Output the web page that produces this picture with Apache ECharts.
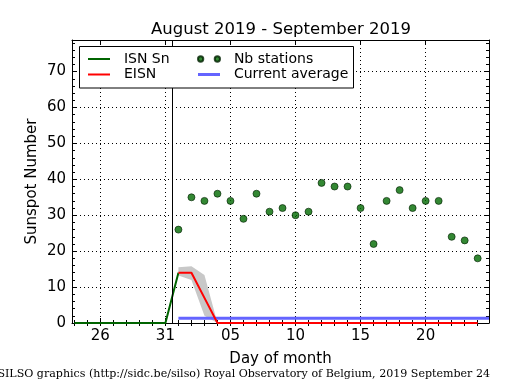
<!DOCTYPE html>
<html>
<head>
<meta charset="utf-8">
<script src="https://cdn.jsdelivr.net/npm/echarts@6/dist/echarts.min.js"></script>
<style>html,body{margin:0;padding:0;background:#fff}#c{width:515px;height:390px}</style>
</head>
<body>
<div id="c"></div>
<script>
// ---- data (dates as MM-DD) ----
const isnDates = ['08-24','08-25','08-26','08-27','08-28','08-29','08-30','08-31','09-01'];
const isnValues = [0,0,0,0,0,0,0,0,14];

const eisnDates = ['09-01','09-02','09-03','09-04','09-05','09-06','09-07','09-08','09-09','09-10','09-11','09-12',
  '09-13','09-14','09-15','09-16','09-17','09-18','09-19','09-20','09-21','09-22','09-23','09-24'];
const eisnValues = [14,14,7,0,0,0,0,0,0,0,0,0,0,0,0,0,0,0,0,0,0,0,0,0];
const nbStations = [26,35,34,36,34,29,36,31,32,30,31,39,38,38,32,22,34,37,32,34,34,24,23,18];

const bandDates = ['09-01','09-02','09-03','09-04'];
const bandUpper = [15.5,15.8,13.4,0];
const bandLower = [13.2,12.0,2.0,0];

const avgStart = '09-01';
const avgValue = 1.3;
const boundaryDay = 30.5; // Aug 31.5 (days since Aug 1)

const xTickDates = ['08-26','08-31','09-05','09-10','09-15','09-20'];
const xTickLabels = ['26','31','05','10','15','20'];
const xMinorDates = ['08-24','08-25','08-26','08-27','08-28','08-29','08-30','08-31','09-01','09-02','09-03','09-04',
  '09-05','09-06','09-07','09-08','09-09','09-10','09-11','09-12','09-13','09-14','09-15','09-16','09-17','09-18',
  '09-19','09-20','09-21','09-22','09-23','09-24'];
const yTickLabels = ['0','10','20','30','40','50','60','70'];

// axis range in days since Aug 1
const xMin = 22.82, xMax = 54.87;
const yMin = 0, yMax = 78.8;

function dayX(s){ const p = s.split('-').map(Number); return p[0] === 8 ? p[1]-1 : 30 + p[1]; }
function pairs(dates, vals){ return dates.map((d,i)=>[dayX(d), vals[i]]); }

const FONT = 'DejaVu Sans';
const chart = echarts.init(document.getElementById('c'), null, {renderer:'canvas'});

const majorX = xTickDates.map(dayX);
const minorX = xMinorDates.map(dayX);
const majorTickX = {show:true, inside:true, length:5, customValues:majorX, lineStyle:{color:'#000', width:1}};
const minorTickX = {show:true, inside:true, length:3, customValues:minorX, lineStyle:{color:'#000', width:1}};
const majorTick = {show:true, inside:true, length:5, lineStyle:{color:'#000', width:1}};
const minorTick = {show:true, splitNumber:5, length:3, lineStyle:{color:'#000', width:1}};
const lineAx = {show:true, onZero:false, lineStyle:{color:'#000', width:1}};

const bandPts = bandDates.map((d,i)=>[dayX(d), bandUpper[i], bandLower[i]]);

const legendBase = {orient:'vertical', top:52, padding:0, itemGap:1.5, itemWidth:22, itemHeight:14,
  z:101, formatter: name => '  ' + name,
  textStyle:{fontFamily:FONT, fontSize:14, color:'#000'}};

chart.setOption({
  animation:false,
  title:{text:'August 2019 - September 2019', left:276, top:16, textAlign:'center',
    textStyle:{fontFamily:FONT, fontSize:16.5, fontWeight:'normal', color:'#000'}},
  grid:{left:72, right:26, top:40, bottom:67, outerBoundsMode:'none', containLabel:false},
  legend:[
    Object.assign({}, legendBase, {left:88, data:[
      {name:'ISN Sn', icon:'path://M0,0H22V2H0Z'},
      {name:'EISN', icon:'path://M0,0H22V2H0Z'}]}),
    Object.assign({}, legendBase, {left:197, data:[
      {name:'Nb stations', icon:'path://M0,3a3,3 0 1,0 6,0a3,3 0 1,0 -6,0ZM19,3a3,3 0 1,0 6,0a3,3 0 1,0 -6,0Z'},
      {name:'Current average', icon:'path://M0,0H22V3H0Z'}]})
  ],
  xAxis:[
    {type:'value', position:'bottom', min:xMin, max:xMax,
      axisLine:lineAx, axisTick:majorTickX,
      axisLabel:{customValues:majorX, formatter:v => xTickLabels[majorX.indexOf(Math.round(v))] || '', margin:6,
        fontFamily:FONT, fontSize:15, color:'#000'},
      splitLine:{show:true, lineStyle:{color:'#000', type:[1,3], width:1}},
      name:'Day of month', nameLocation:'middle', nameGap:29, nameMoveOverlap:false,
      nameTextStyle:{fontFamily:FONT, fontSize:15, color:'#000'}},
    {type:'value', position:'bottom', min:xMin, max:xMax,
      axisLine:{show:false}, axisTick:minorTickX, axisLabel:{show:false}, splitLine:{show:false}},
    {type:'value', position:'top', min:xMin, max:xMax,
      axisLine:lineAx, axisTick:majorTickX, axisLabel:{show:false}, splitLine:{show:false}},
    {type:'value', position:'top', min:xMin, max:xMax,
      axisLine:{show:false}, axisTick:minorTickX, axisLabel:{show:false}, splitLine:{show:false}}
  ],
  yAxis:[
    {type:'value', position:'left', min:yMin, max:yMax, interval:10,
      axisLine:lineAx, axisTick:majorTick, minorTick:minorTick,
      axisLabel:{showMaxLabel:false, margin:6, fontFamily:FONT, fontSize:15, color:'#000',
        formatter:v => yTickLabels[Math.round(v/10)] || ''},
      splitLine:{show:true, lineStyle:{color:'#000', type:[1,3], width:1}},
      name:'Sunspot Number', nameLocation:'middle', nameGap:32, nameRotate:90, nameMoveOverlap:false,
      nameTextStyle:{fontFamily:FONT, fontSize:15, color:'#000'}},
    {type:'value', position:'right', min:yMin, max:yMax, interval:10,
      axisLine:lineAx, axisTick:majorTick, minorTick:minorTick, axisLabel:{show:false}, splitLine:{show:false}}
  ],
  series:[
    {type:'custom', name:'band', silent:true, z:1,
      renderItem:(params, api)=>{
        if (params.dataIndex !== 0) return null;
        const up = bandPts.map(p=>api.coord([p[0], p[1]]));
        const lo = bandPts.map(p=>api.coord([p[0], p[2]])).reverse();
        return {type:'polygon', shape:{points:up.concat(lo)}, style:{fill:'#c8c8c8', stroke:null}};
      },
      data:bandPts.map(p=>[p[0], p[1], p[2]]), encode:{x:0, y:[1,2]}},
    {type:'line', name:'ISN Sn', data:pairs(isnDates, isnValues), symbol:'none', z:3,
      lineStyle:{color:'#006400', width:2}, itemStyle:{color:'#006400'},
      markLine:{silent:true, symbol:'none', label:{show:false},
        lineStyle:{color:'#000', width:1, type:'solid'}, data:[{xAxis:boundaryDay}]}},
    {type:'line', name:'EISN', data:pairs(eisnDates, eisnValues), symbol:'none', z:4,
      lineStyle:{color:'#ff0000', width:2}, itemStyle:{color:'#ff0000'}},
    {type:'scatter', name:'Nb stations', data:pairs(eisnDates, nbStations), symbolSize:7, z:5,
      itemStyle:{color:'#006a00', borderColor:'#002000', borderWidth:0.8}},
    {type:'line', name:'Current average', data:[[dayX(avgStart), avgValue],[xMax, avgValue]], symbol:'none', z:2,
      lineStyle:{color:'#6464ff', width:3}, itemStyle:{color:'#6464ff'}}
  ],
  graphic:[
    {type:'rect', z:100, shape:{x:79.5, y:46.5, width:274, height:41.5},
      style:{fill:'#fff', stroke:'#000', lineWidth:1}},
    {type:'text', right:25, top:369, style:{text:'SILSO graphics (http://sidc.be/silso) Royal Observatory of Belgium, 2019 September 24',
      font:'11.07px "DejaVu Serif"', fill:'#000'}}
  ]
});
</script>
</body>
</html>
